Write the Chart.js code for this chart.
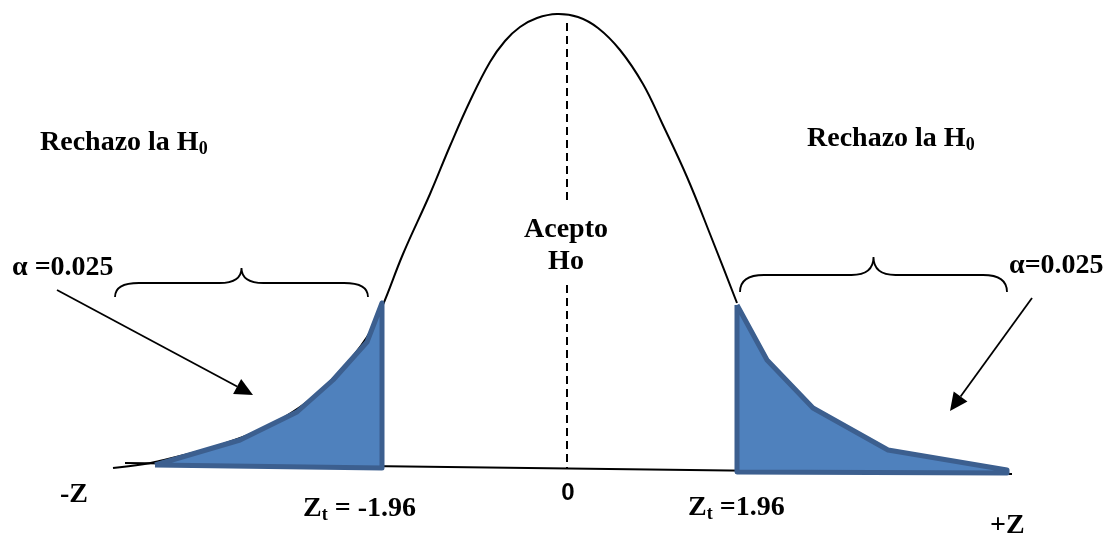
<!DOCTYPE html>
<html>
<head>
<meta charset="utf-8">
<script src="https://cdn.jsdelivr.net/npm/chart.js@4"></script>
<style>
  html, body { margin: 0; padding: 0; background: #fff; }
  #wrap { width: 1108px; height: 535px; position: relative; }
</style>
</head>
<body>
<div id="wrap"><canvas id="chart"></canvas></div>
<script>
// drawing units: the plot spans 0..1108 across and 0..535 down
const curveX = [113, 155, 243, 300, 340, 367, 382, 403, 430, 450, 470, 490, 505, 520, 537, 557, 578, 598, 620, 643, 662, 687, 710, 737];
const curveY = [468, 462, 437, 407, 371, 337, 307, 254, 194, 146, 101, 62, 41, 27, 18, 14, 17, 28, 50, 84, 123, 177, 234, 303];

// shaded rejection tails (closed outlines)
const leftTailX = [155, 240, 297, 333, 367, 382, 382, 155];
const leftTailY = [465, 440, 412, 380, 342, 303, 468, 465];
const rightTailX = [737, 767, 813, 888, 1007, 1007, 737, 737];
const rightTailY = [305, 360, 408, 450, 470, 473, 472, 305];

const baseX = [125, 1012];
const baseY = [463, 474];

const meanX = 567;
const meanSegY = [23, 200, null, 285, 468];

// braces: [left, right, end y, bar y, tip y]
const braces = [
  [115, 368, 297, 283, 268],
  [740, 1007, 292, 275, 257]
];

// arrows: [from x, from y, to x, to y]
const arrows = [
  [57, 290, 253, 395],
  [1032, 298, 950, 411]
];

// labels: [text, subscript, x, baseline y, align]
const serifLabels = [
  ["Rechazo la H", "0", 40, 150, "left"],
  ["Rechazo la H", "0", 807, 146, "left"],
  ["\u03b1 =0.025", "", 12, 275, "left"],
  ["\u03b1=0.025", "", 1009, 273, "left"],
  ["Acepto", "", 566, 237, "center"],
  ["Ho", "", 566, 269, "center"],
  ["-Z", "", 60, 502, "left"],
  ["Z", "t = -1.96", 303, 516, "left"],
  ["Z", "t =1.96", 688, 515, "left"],
  ["+Z", "", 990, 533, "left"]
];
const zeroLabel = ["0", 568, 500];

const pts = (xs, ys) => xs.map((x, i) => ({ x: x, y: ys[i] }));

const ink = "#000000";
const tailFill = "#4f81bd";
const tailEdge = "#3c5f8f";

const annotations = {
  id: "annotations",
  afterDatasetsDraw(chart) {
    const { ctx, scales } = chart;
    const px = v => scales.x.getPixelForValue(v);
    const py = v => scales.y.getPixelForValue(v);
    ctx.save();
    ctx.strokeStyle = ink;
    ctx.fillStyle = ink;
    ctx.lineWidth = 1.8;

    braces.forEach(([x0, x1, yEnd, yBar, yTip]) => {
      const a = px(x0), b = px(x1), m = (a + b) / 2;
      const e = py(yEnd), h = py(yBar), t = py(yTip);
      ctx.beginPath();
      ctx.moveTo(a, e);
      ctx.quadraticCurveTo(a, h, a + 24, h);
      ctx.lineTo(m - 22, h);
      ctx.quadraticCurveTo(m, h, m, t);
      ctx.quadraticCurveTo(m, h, m + 22, h);
      ctx.lineTo(b - 24, h);
      ctx.quadraticCurveTo(b, h, b, e);
      ctx.stroke();
    });

    arrows.forEach(([x0, y0, x1, y1]) => {
      const a = px(x0), b = py(y0), c = px(x1), d = py(y1);
      const ang = Math.atan2(d - b, c - a);
      const len = 18, half = 8.5;
      const bx = c - len * Math.cos(ang), by = d - len * Math.sin(ang);
      ctx.beginPath();
      ctx.moveTo(a, b);
      ctx.lineTo(bx, by);
      ctx.stroke();
      ctx.beginPath();
      ctx.moveTo(c, d);
      ctx.lineTo(bx + half * Math.sin(ang), by - half * Math.cos(ang));
      ctx.lineTo(bx - half * Math.sin(ang), by + half * Math.cos(ang));
      ctx.closePath();
      ctx.fill();
    });

    ctx.textBaseline = "alphabetic";
    serifLabels.forEach(([txt, sub, x, y, align]) => {
      ctx.font = "bold 28px 'Liberation Serif'";
      const w = ctx.measureText(txt).width;
      let subMain = sub, subRest = "";
      if (sub.length > 1) { subMain = sub[0]; subRest = sub.slice(1); }
      ctx.font = "bold 18px 'Liberation Serif'";
      const sw = sub ? ctx.measureText(subMain).width : 0;
      ctx.font = "bold 28px 'Liberation Serif'";
      const rw = subRest ? ctx.measureText(subRest).width : 0;
      let left = px(x);
      if (align === "center") left -= (w + sw + rw) / 2;
      ctx.textAlign = "left";
      ctx.fillText(txt, left, py(y));
      if (sub) {
        ctx.font = "bold 18px 'Liberation Serif'";
        ctx.fillText(subMain, left + w, py(y) + 4);
        if (subRest) {
          ctx.font = "bold 28px 'Liberation Serif'";
          ctx.fillText(subRest, left + w + sw, py(y));
        }
      }
    });

    ctx.font = "bold 24px 'Liberation Sans'";
    ctx.textAlign = "center";
    ctx.fillText(zeroLabel[0], px(zeroLabel[1]), py(zeroLabel[2]));
    ctx.restore();
  }
};

new Chart(document.getElementById("chart"), {
  type: "scatter",
  data: {
    datasets: [
      {
        data: pts(leftTailX, leftTailY),
        showLine: true,
        fill: "shape",
        backgroundColor: tailFill,
        borderColor: tailEdge,
        borderWidth: 5,
        borderJoinStyle: "round",
        pointRadius: 0,
        order: 0
      },
      {
        data: pts(rightTailX, rightTailY),
        showLine: true,
        fill: "shape",
        backgroundColor: tailFill,
        borderColor: tailEdge,
        borderWidth: 5,
        borderJoinStyle: "round",
        pointRadius: 0,
        order: 0
      },
      {
        data: pts(curveX, curveY),
        showLine: true,
        borderColor: ink,
        borderWidth: 2,
        tension: 0.4,
        pointRadius: 0,
        order: 1
      },
      {
        data: pts(baseX, baseY),
        showLine: true,
        borderColor: ink,
        borderWidth: 2,
        pointRadius: 0,
        order: 2
      },
      {
        data: meanSegY.map(y => ({ x: meanX, y: y })),
        showLine: true,
        spanGaps: false,
        borderColor: ink,
        borderWidth: 2,
        borderDash: [8, 5],
        pointRadius: 0,
        order: 2
      }
    ]
  },
  options: {
    responsive: true,
    maintainAspectRatio: false,
    animation: false,
    layout: { padding: 0 },
    plugins: {
      legend: { display: false },
      tooltip: { enabled: false }
    },
    scales: {
      x: { type: "linear", min: 0, max: 1108, display: false },
      y: { type: "linear", min: 0, max: 535, reverse: true, display: false }
    }
  },
  plugins: [annotations]
});
</script>
</body>
</html>
